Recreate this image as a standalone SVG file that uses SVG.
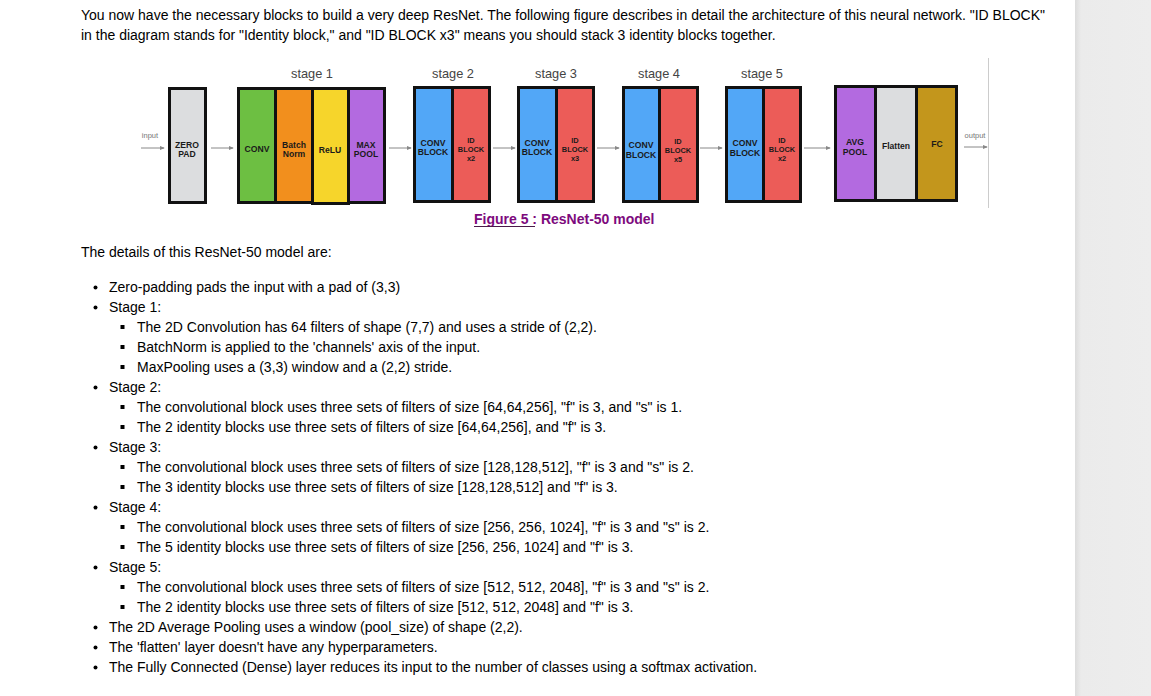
<svg xmlns="http://www.w3.org/2000/svg" width="1151" height="696" viewBox="0 0 1151 696">
<defs>
<style>
.t{font-family:"Liberation Sans",Arial,sans-serif;font-size:14px;fill:#000}
.b{stroke:#111;stroke-width:3}
.l{font-family:"Liberation Sans",Arial,sans-serif;font-weight:bold;font-size:8.6px;fill:#1a1a1a;text-anchor:middle}
.s{font-size:7.4px}
.st{font-family:"Liberation Sans",Arial,sans-serif;font-size:12.8px;fill:#444;text-anchor:middle}
.io{font-family:"Liberation Sans",Arial,sans-serif;font-size:7.5px;fill:#777;text-anchor:middle}
.a{stroke:#888;stroke-width:1;fill:none;marker-end:url(#ah)}
</style>
<marker id="ah" viewBox="0 0 6 6" refX="5" refY="3" markerWidth="5" markerHeight="5" orient="auto" markerUnits="userSpaceOnUse"><path d="M0,0.5 L6,3 L0,5.5 z" fill="#888"/></marker>
<linearGradient id="sh" x1="0" x2="1" y1="0" y2="0"><stop offset="0" stop-color="#dcdcdc"/><stop offset="0.08" stop-color="#ebebeb"/><stop offset="1" stop-color="#ededed"/></linearGradient>
</defs>
<rect x="0" y="0" width="1151" height="696" fill="#fff"/>
<rect x="1075" y="0" width="76" height="696" fill="url(#sh)"/>

<g id="intro">
<text class="t" x="81" y="20">You now have the necessary blocks to build a very deep ResNet. The following figure describes in detail the architecture of this neural network. "ID BLOCK"</text>
<text class="t" x="81" y="40">in the diagram stands for "Identity block," and "ID BLOCK x3" means you should stack 3 identity blocks together.</text>
</g>

<line x1="988.5" y1="58" x2="988.5" y2="208" stroke="#ccc" stroke-width="1"/>

<g id="labels">
<text class="st" x="312" y="78">stage 1</text>
<text class="st" x="453" y="78">stage 2</text>
<text class="st" x="556" y="78">stage 3</text>
<text class="st" x="659" y="78">stage 4</text>
<text class="st" x="762" y="78">stage 5</text>
<text class="io" x="150" y="138">input</text>
<text class="io" x="975" y="138">output</text>
</g>

<g id="connectors">
<line class="a" x1="141" y1="148" x2="164" y2="148"/>
<line class="a" x1="211" y1="148" x2="233" y2="148"/>
<line class="a" x1="389" y1="148" x2="411" y2="148"/>
<line class="a" x1="493" y1="148" x2="515" y2="148"/>
<line class="a" x1="597" y1="148" x2="619" y2="148"/>
<line class="a" x1="700" y1="148" x2="722" y2="148"/>
<line class="a" x1="804" y1="148" x2="830" y2="148"/>
<line class="a" x1="964" y1="147" x2="987" y2="147"/>
</g>

<g id="zeropad">
<rect class="b" x="169.5" y="88.5" width="36" height="114" fill="#dcdddf"/>
<text class="l" x="187" y="148">ZERO</text><text class="l" x="187" y="157">PAD</text>
</g>

<g id="stage1">
<rect class="b" x="238.5" y="88.5" width="37" height="114" fill="#6dbf42"/>
<text class="l" x="257" y="152">CONV</text>
<rect class="b" x="275.5" y="88.5" width="37" height="114" fill="#f28f1d"/>
<text class="l" x="294" y="148">Batch</text><text class="l" x="294" y="157">Norm</text>
<rect class="b" x="312.5" y="88.5" width="36" height="115" fill="#f6d52b"/>
<text class="l" x="330" y="153">ReLU</text>
<rect class="b" x="348.5" y="88.5" width="36" height="114" fill="#b36ae0"/>
<text class="l" x="366" y="148">MAX</text><text class="l" x="366" y="157">POOL</text>
</g>

<g id="stage2">
<rect class="b" x="414.5" y="87.5" width="38" height="114" fill="#52a7f7"/>
<text class="l" x="433" y="146">CONV</text><text class="l" x="433" y="155">BLOCK</text>
<rect class="b" x="452.5" y="87.5" width="37" height="114" fill="#ec5c58"/>
<text class="l s" x="471" y="143">ID</text><text class="l s" x="471" y="152">BLOCK</text><text class="l s" x="471" y="161">x2</text>
</g>

<g id="stage3">
<rect class="b" x="518.5" y="87.5" width="38" height="114" fill="#52a7f7"/>
<text class="l" x="537" y="146">CONV</text><text class="l" x="537" y="155">BLOCK</text>
<rect class="b" x="556.5" y="87.5" width="37" height="114" fill="#ec5c58"/>
<text class="l s" x="575" y="143">ID</text><text class="l s" x="575" y="152">BLOCK</text><text class="l s" x="575" y="161">x3</text>
</g>

<g id="stage4">
<rect class="b" x="623.5" y="87.5" width="36" height="114" fill="#52a7f7"/>
<text class="l" x="641" y="148">CONV</text><text class="l" x="641" y="158">BLOCK</text>
<rect class="b" x="659.5" y="87.5" width="38" height="114" fill="#ec5c58"/>
<text class="l s" x="678" y="144">ID</text><text class="l s" x="678" y="153">BLOCK</text><text class="l s" x="678" y="162">x5</text>
</g>

<g id="stage5">
<rect class="b" x="726.5" y="87.5" width="37" height="114" fill="#52a7f7" stroke="#333"/>
<text class="l" x="745" y="146">CONV</text><text class="l" x="745" y="156">BLOCK</text>
<rect class="b" x="763.5" y="87.5" width="37" height="114" fill="#ec5c58"/>
<text class="l s" x="782" y="143">ID</text><text class="l s" x="782" y="152">BLOCK</text><text class="l s" x="782" y="161">x2</text>
</g>

<g id="head">
<rect class="b" x="835.5" y="86.5" width="40" height="114" fill="#b36ae0"/>
<text class="l" x="855" y="145">AVG</text><text class="l" x="855" y="155">POOL</text>
<rect class="b" x="875.5" y="86.5" width="41" height="114" fill="#dcdddf"/>
<text class="l" x="896" y="149">Flatten</text>
<rect class="b" x="916.5" y="86.5" width="40" height="114" fill="#c3961c"/>
<text class="l" x="937" y="147">FC</text>
</g>

<g id="caption">
<text x="474" y="224" font-family="'Liberation Sans',Arial,sans-serif" font-size="14" font-weight="bold" fill="#7d0a7d">Figure 5 : ResNet-50 model</text>
<line x1="474" y1="226.5" x2="535" y2="226.5" stroke="#4a1a4a" stroke-width="1"/>
</g>

<g id="details">
<text class="t" x="81" y="257">The details of this ResNet-50 model are:</text>
<g fill="#000">
<circle cx="95.5" cy="287.5" r="2"/>
<circle cx="95.5" cy="307.5" r="2"/>
<rect x="120.5" y="325" width="4" height="4"/>
<rect x="120.5" y="345" width="4" height="4"/>
<rect x="120.5" y="365" width="4" height="4"/>
<circle cx="95.5" cy="387.5" r="2"/>
<rect x="120.5" y="405" width="4" height="4"/>
<rect x="120.5" y="425" width="4" height="4"/>
<circle cx="95.5" cy="447.5" r="2"/>
<rect x="120.5" y="465" width="4" height="4"/>
<rect x="120.5" y="485" width="4" height="4"/>
<circle cx="95.5" cy="507.5" r="2"/>
<rect x="120.5" y="525" width="4" height="4"/>
<rect x="120.5" y="545" width="4" height="4"/>
<circle cx="95.5" cy="567.5" r="2"/>
<rect x="120.5" y="585" width="4" height="4"/>
<rect x="120.5" y="605" width="4" height="4"/>
<circle cx="95.5" cy="627.5" r="2"/>
<circle cx="95.5" cy="647.5" r="2"/>
<circle cx="95.5" cy="667.5" r="2"/>
</g>
<text class="t" x="109" y="292">Zero-padding pads the input with a pad of (3,3)</text>
<text class="t" x="109" y="312">Stage 1:</text>
<text class="t" x="137" y="332">The 2D Convolution has 64 filters of shape (7,7) and uses a stride of (2,2).</text>
<text class="t" x="137" y="352">BatchNorm is applied to the 'channels' axis of the input.</text>
<text class="t" x="137" y="372">MaxPooling uses a (3,3) window and a (2,2) stride.</text>
<text class="t" x="109" y="392">Stage 2:</text>
<text class="t" x="137" y="412">The convolutional block uses three sets of filters of size [64,64,256], "f" is 3, and "s" is 1.</text>
<text class="t" x="137" y="432">The 2 identity blocks use three sets of filters of size [64,64,256], and "f" is 3.</text>
<text class="t" x="109" y="452">Stage 3:</text>
<text class="t" x="137" y="472">The convolutional block uses three sets of filters of size [128,128,512], "f" is 3 and "s" is 2.</text>
<text class="t" x="137" y="492">The 3 identity blocks use three sets of filters of size [128,128,512] and "f" is 3.</text>
<text class="t" x="109" y="512">Stage 4:</text>
<text class="t" x="137" y="532">The convolutional block uses three sets of filters of size [256, 256, 1024], "f" is 3 and "s" is 2.</text>
<text class="t" x="137" y="552">The 5 identity blocks use three sets of filters of size [256, 256, 1024] and "f" is 3.</text>
<text class="t" x="109" y="572">Stage 5:</text>
<text class="t" x="137" y="592">The convolutional block uses three sets of filters of size [512, 512, 2048], "f" is 3 and "s" is 2.</text>
<text class="t" x="137" y="612">The 2 identity blocks use three sets of filters of size [512, 512, 2048] and "f" is 3.</text>
<text class="t" x="109" y="632">The 2D Average Pooling uses a window (pool_size) of shape (2,2).</text>
<text class="t" x="109" y="652">The 'flatten' layer doesn't have any hyperparameters.</text>
<text class="t" x="109" y="672">The Fully Connected (Dense) layer reduces its input to the number of classes using a softmax activation.</text>
</g>
</svg>
